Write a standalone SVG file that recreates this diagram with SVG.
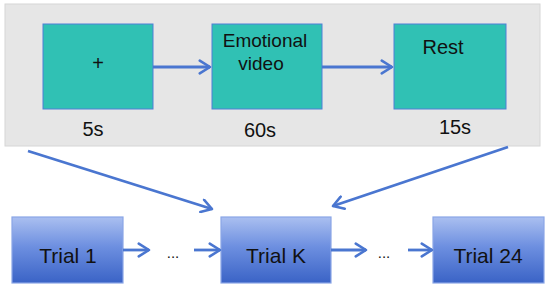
<svg xmlns="http://www.w3.org/2000/svg" width="550" height="288" viewBox="0 0 550 288">
<defs>
<linearGradient id="tg" x1="0" y1="0" x2="0" y2="1">
<stop offset="0" stop-color="#aabff0"/>
<stop offset="0.45" stop-color="#6d8fe0"/>
<stop offset="1" stop-color="#3a63c6"/>
</linearGradient>
<marker id="ah" viewBox="0 0 12 12" refX="10" refY="6" markerWidth="5.5" markerHeight="5.5" orient="auto" markerUnits="strokeWidth">
<path d="M2,1 L10,6 L2,11" fill="none" stroke="#4a76d0" stroke-width="2" stroke-linecap="round" stroke-linejoin="round"/>
</marker>
<style>
.t{font-family:"Liberation Sans",Arial,sans-serif;fill:#111}
.step{fill:#30c1b4;stroke:#4f7fd6;stroke-width:1}
.trial{fill:url(#tg);stroke:#8aa6e6;stroke-width:1.2}
.c{fill:none;stroke:#4a76d0;stroke-width:2.8;marker-end:url(#ah)}
</style>
</defs>
<rect x="5" y="4" width="535" height="142" fill="#e6e6e6" stroke="#d6d6d6" stroke-width="1"/>
<g id="fixation">
<rect class="step" x="43" y="24" width="110" height="85" stroke="#3ec9bb"/>
<text class="t" x="98" y="70" font-size="20" text-anchor="middle">+</text>
<text class="t" x="93" y="136" font-size="20" text-anchor="middle">5s</text>
</g>
<g id="video">
<rect class="step" x="212" y="24" width="110" height="85"/>
<text class="t" x="265" y="47" font-size="19" text-anchor="middle">Emotional</text>
<text class="t" x="261" y="70" font-size="19" text-anchor="middle">video</text>
<text class="t" x="260" y="137" font-size="20" text-anchor="middle">60s</text>
</g>
<g id="rest">
<rect class="step" x="394" y="24" width="112" height="85"/>
<text class="t" x="443" y="54" font-size="20" text-anchor="middle">Rest</text>
<text class="t" x="455" y="134" font-size="20" text-anchor="middle">15s</text>
</g>
<g id="trial1">
<rect class="trial" x="12" y="217" width="111" height="66"/>
<text class="t" x="68" y="263" font-size="21" text-anchor="middle">Trial 1</text>
</g>
<g id="trialK">
<rect class="trial" x="221" y="217" width="110" height="66"/>
<text class="t" x="276" y="263" font-size="21" text-anchor="middle">Trial K</text>
</g>
<g id="trial24">
<rect class="trial" x="433" y="217" width="111" height="66"/>
<text class="t" x="488" y="263" font-size="21" text-anchor="middle">Trial 24</text>
</g>
<g id="dots">
<text class="t" x="173" y="258" font-size="15" text-anchor="middle">...</text>
<text class="t" x="384" y="258" font-size="15" text-anchor="middle">...</text>
</g>
<g id="connectors">
<line class="c" x1="153" y1="67" x2="210" y2="67"/>
<line class="c" x1="322" y1="67" x2="392" y2="67"/>
<line class="c" x1="28" y1="151" x2="212" y2="209"/>
<line class="c" x1="508" y1="147" x2="333" y2="206"/>
<line class="c" x1="123" y1="250" x2="149" y2="250"/>
<line class="c" x1="194" y1="250" x2="220" y2="250"/>
<line class="c" x1="331" y1="250" x2="366" y2="250"/>
<line class="c" x1="408" y1="250" x2="432" y2="250"/>
</g>
</svg>
